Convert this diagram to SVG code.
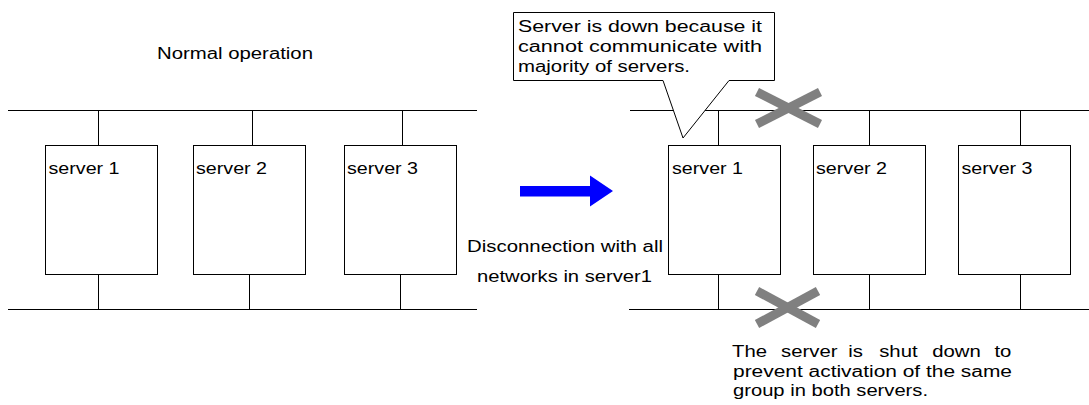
<svg xmlns="http://www.w3.org/2000/svg" width="1089" height="405" viewBox="0 0 1089 405">
<style>
  .ln { stroke: #000; stroke-width: 1; fill: none; }
  .box { fill: #fff; stroke: #000; stroke-width: 1; }
  .t { font-family: "Liberation Sans", Arial, sans-serif; font-size: 16px; fill: #000; }
  .x { stroke: #808080; stroke-width: 9; stroke-linecap: butt; fill: none; }
</style>
<rect width="1089" height="405" fill="#fff"/>

<text class="t" x="157" y="59" textLength="156" lengthAdjust="spacingAndGlyphs">Normal operation</text>

<g id="connectors">
  <!-- left network -->
  <line class="ln" x1="8" y1="110.5" x2="477" y2="110.5"/>
  <line class="ln" x1="8" y1="309.5" x2="477" y2="309.5"/>
  <line class="ln" x1="98.5" y1="110.5" x2="98.5" y2="145.5"/>
  <line class="ln" x1="252.5" y1="110.5" x2="252.5" y2="145.5"/>
  <line class="ln" x1="402.5" y1="110.5" x2="402.5" y2="145.5"/>
  <line class="ln" x1="98.5" y1="274.5" x2="98.5" y2="309.5"/>
  <line class="ln" x1="249.5" y1="274.5" x2="249.5" y2="309.5"/>
  <line class="ln" x1="400.5" y1="274.5" x2="400.5" y2="309.5"/>
  <!-- right network -->
  <line class="ln" x1="630" y1="110.5" x2="1089" y2="110.5"/>
  <line class="ln" x1="629" y1="309.5" x2="1089" y2="309.5"/>
  <line class="ln" x1="718.5" y1="110.5" x2="718.5" y2="145.5"/>
  <line class="ln" x1="869.5" y1="110.5" x2="869.5" y2="145.5"/>
  <line class="ln" x1="1020.5" y1="110.5" x2="1020.5" y2="145.5"/>
  <line class="ln" x1="718.5" y1="274.5" x2="718.5" y2="309.5"/>
  <line class="ln" x1="869.5" y1="274.5" x2="869.5" y2="309.5"/>
  <line class="ln" x1="1020.5" y1="274.5" x2="1020.5" y2="309.5"/>
</g>

<g id="left-server1">
  <rect class="box" x="45.5" y="145.5" width="112" height="129"/>
  <text class="t" x="48.5" y="174" textLength="71" lengthAdjust="spacingAndGlyphs">server 1</text>
</g>
<g id="left-server2">
  <rect class="box" x="193.5" y="145.5" width="112" height="129"/>
  <text class="t" x="196" y="174" textLength="71" lengthAdjust="spacingAndGlyphs">server 2</text>
</g>
<g id="left-server3">
  <rect class="box" x="344.5" y="145.5" width="112" height="129"/>
  <text class="t" x="347" y="174" textLength="71" lengthAdjust="spacingAndGlyphs">server 3</text>
</g>

<g id="right-server1">
  <rect class="box" x="668.5" y="145.5" width="112" height="129"/>
  <text class="t" x="672" y="174" textLength="71" lengthAdjust="spacingAndGlyphs">server 1</text>
</g>
<g id="right-server2">
  <rect class="box" x="813.5" y="145.5" width="112" height="129"/>
  <text class="t" x="816" y="174" textLength="71" lengthAdjust="spacingAndGlyphs">server 2</text>
</g>
<g id="right-server3">
  <rect class="box" x="958.5" y="145.5" width="112" height="129"/>
  <text class="t" x="961.5" y="174" textLength="71" lengthAdjust="spacingAndGlyphs">server 3</text>
</g>

<g id="transition">
  <polygon points="520,186 590,186 590,175.5 613,191 590,206.5 590,196.5 520,196.5" fill="#0000ff"/>
  <text class="t" x="467" y="252" textLength="196" lengthAdjust="spacingAndGlyphs">Disconnection with all</text>
  <text class="t" x="477" y="282" textLength="175" lengthAdjust="spacingAndGlyphs">networks in server1</text>
</g>

<g id="callout">
  <polygon class="box" points="513.5,12.5 774.5,12.5 774.5,80.5 729,80.5 683,138 663,80.5 513.5,80.5"/>
  <text class="t" x="518" y="31.5" textLength="244" lengthAdjust="spacingAndGlyphs">Server is down because it</text>
  <text class="t" x="518" y="52" textLength="244" lengthAdjust="spacingAndGlyphs">cannot communicate with</text>
  <text class="t" x="518" y="72" textLength="172" lengthAdjust="spacingAndGlyphs">majority of servers.</text>
</g>

<g id="cross-top">
  <line class="x" x1="757" y1="92" x2="820" y2="124"/>
  <line class="x" x1="757" y1="124" x2="820" y2="92"/>
</g>
<g id="cross-bottom">
  <line class="x" x1="757" y1="291" x2="818" y2="324"/>
  <line class="x" x1="757" y1="324" x2="818" y2="291"/>
</g>

<g id="note">
  <text class="t" transform="scale(1.27 1)" y="357"><tspan x="576.4">The</tspan> <tspan x="615.0">server</tspan> <tspan x="668.0">is</tspan> <tspan x="692.3">shut</tspan> <tspan x="734.0">down</tspan> <tspan x="783.0">to</tspan></text>
  <text class="t" x="733" y="377" textLength="279" lengthAdjust="spacingAndGlyphs">prevent activation of the same</text>
  <text class="t" x="733" y="396" textLength="195" lengthAdjust="spacingAndGlyphs">group in both servers.</text>
</g>
</svg>
